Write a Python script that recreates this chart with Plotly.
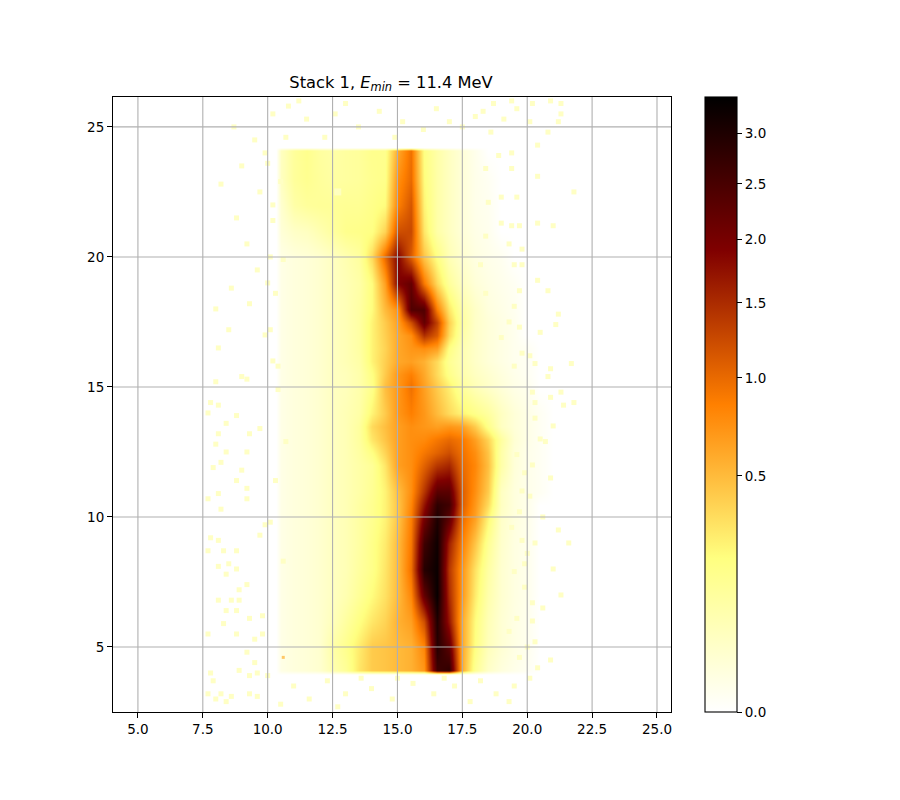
import math
import plotly.graph_objects as go

VMAX = 3.39
x_cols = [10.3, 10.5, 11, 11.5, 12, 12.5, 13, 13.5, 14, 14.5, 15, 15.5, 16, 16.5, 17, 17.5, 18, 18.5, 19, 19.5, 20, 20.5, 21]
y_rows = [3.95, 4.1, 5, 6, 7, 8, 9, 10, 10.5, 11, 12, 12.5, 13, 13.5, 14, 15, 15.5, 16, 16.5, 17, 17.5, 18, 19, 20, 21, 22, 23, 24.1, 24.2]

row_empty = [0]*21
edge = [.008,.015,.02,.03,.05]
row_4_1 = [.008,.015,.02,.03,.08,.14,.30,.42,.45,.50,.55,.70,2.6,2.8,.60,.15,.04,.015,.006,.002,0]
row_5 = [.008,.015,.02,.03,.10,.17,.28,.42,.45,.50,.55,.80,2.9,2.3,.60,.20,.06,.025,.01,.004,0]
row_6 = [.008,.015,.02,.03,.06,.12,.20,.30,.38,.55,.65,1.2,3.0,1.7,.60,.22,.07,.025,.01,.004,0]
row_7 = edge + [.08,.14,.22,.32,.50,.80,2.2,3.3,1.5,.70,.28,.09,.03,.012,.005,0]
row_8 = edge + [.07,.12,.18,.30,.50,.95,2.9,3.25,1.4,.72,.32,.11,.03,.012,.005,0]
row_9 = edge + [.07,.11,.18,.28,.50,.90,2.6,3.2,1.6,.85,.45,.15,.035,.012,.005,0]
row_10 = edge + [.07,.11,.16,.25,.45,.85,2.0,3.0,2.3,1.0,.65,.25,.04,.015,.006,0]
row_10_5 = edge + [.07,.11,.16,.25,.45,.80,1.7,2.8,2.6,1.1,.70,.35,.05,.015,.006,0]
row_11 = edge + [.07,.10,.15,.25,.48,.75,1.4,2.3,2.3,1.1,.75,.42,.05,.015,.006,.002]
row_12 = edge + [.07,.10,.14,.30,.65,.75,1.05,1.4,1.55,1.0,.80,.48,.10,.02,.006,.002]
row_12_5 = edge + [.07,.11,.20,.38,.65,.75,.90,1.05,1.2,.95,.75,.45,.10,.02,.006,.002]
row_13 = edge + [.07,.12,.30,.45,.65,.75,.78,.90,1.0,.90,.65,.38,.12,.025,.008,.002]
row_13_5 = edge + [.07,.12,.35,.48,.65,.75,.70,.65,.70,.65,.42,.18,.05,.02,.008,.002]
row_14 = edge + [.07,.10,.25,.42,.70,.85,.70,.50,.35,.25,.18,.12,.05,.02,.008,.002]
row_15 = edge + [.06,.09,.18,.48,.70,.95,.65,.42,.27,.13,.07,.04,.02,.008,.004,0]
row_15_5 = edge + [.06,.09,.20,.42,.70,.85,.60,.35,.18,.09,.05,.03,.015,.006,.002,0]
row_16 = edge + [.07,.10,.25,.40,.60,.65,.55,.35,.15,.08,.04,.02,.01,.004,.002,0]
row_16_5 = edge + [.07,.11,.25,.38,.60,.70,.75,.65,.20,.08,.04,.02,.01,.004,.002,0]
row_17 = edge + [.07,.11,.25,.40,.60,.75,1.45,1.1,.35,.10,.04,.02,.01,.004,0,0]
row_17_5 = edge + [.07,.11,.25,.42,.65,1.2,2.2,1.3,.40,.12,.04,.02,.01,.004,0,0]
row_18 = edge + [.07,.11,.22,.50,.75,2.4,2.4,.85,.30,.10,.04,.015,.008,.003,0,0]
row_19 = edge + [.07,.10,.22,.65,1.9,2.2,.90,.35,.13,.05,.02,.01,.005,.002,0,0]
row_20 = edge + [.08,.12,.35,1.0,1.9,1.1,.45,.20,.07,.03,.012,.006,.003,0,0,0]
row_21 = [.02,.04,.05,.08,.12,.17,.18,.20,.38,1.2,1.25,.30,.10,.05,.02,.008,.004,0,0,0,0]
row_22 = [.03,.10,.13,.14,.14,.15,.15,.18,.22,.85,1.15,.25,.10,.05,.02,.006,.003,0,0,0,0]
row_23 = [.05,.13,.16,.13,.11,.12,.13,.16,.18,.75,1.0,.22,.10,.05,.02,.006,.002,0,0,0,0]
row_24_1 = [.05,.13,.17,.12,.10,.12,.13,.17,.17,.60,.95,.20,.10,.05,.02,.005,0,0,0,0,0]

rows = [row_empty, row_4_1, row_5, row_6, row_7, row_8, row_9, row_10, row_10_5, row_11, row_12, row_12_5, row_13,
        row_13_5, row_14, row_15, row_15_5, row_16, row_16_5, row_17, row_17_5, row_18, row_19, row_20, row_21,
        row_22, row_23, row_24_1, row_empty]

speck_x = [7.8,8.1,7.7,8.4,8.1,8.8,9.3,9.7,8.0,8.4,9.2,8.2,7.9,8.8,9.0,9.2,7.7,8.1,9.2,8.2,9.9,9.7,7.8,8.1,7.7,8.3,8.8,8.1,8.5,8.8,8.4,9.2,8.9,8.1,8.6,8.9,8.4,8.8,9.3,9.8,8.3,8.8,9.5,9.8,7.7,9.2,9.5,7.7,7.9,8.2,8.6,9.3,9.6,8.9,9.6,7.8,8.0,10,10.5,8.4,9.3,
           18.3,18.7,19.4,19.6,19.1,20.2,20.9,21.3,21.3,20.1,21.2,18.6,20.8,20.4,19.4,18.9,19.4,20.4,18.4,21.8,18.5,19.0,19.6,19.0,19.4,19.7,21.0,20.4,19.3,19.8,18.4,18.2,19.5,19.8,20.4,19.7,20.8,18.4,19.5,21.2,21.1,19.3,19.7,20.5,19.0,20.1,20.3,20.9,19.5,19.8,21.7,20.8,20.2,21.3,20.9,21.8,20.3,21.4,
           8.0,9.0,9.2,8.1,8.5,9.3,8.6,9.6,8.0,9.2,8.8,9.7,9.0,8.2,9.5,8.7,10.2,9.9,10.2,10.1,9.9,10.2,10.0,
           20.5,20.2,20.9,20.6,21.2,20.3,19.9,21.0,21.3,20.6,20.2,20.3,20.9,20.1,19.5,18.8,19.3,20.4,18.2,21.6,20.7,21.0,
           10.8,11.5,12.2,13.0,13.5,14.3,15.2,16.0,16.5,17.0,17.5,18.0,11.2,12.6,10.7,14.9,
           11,11.6,12.3,13,14,14.8,15.6,16.4,17.2,17.8,12.7,13.6,15,16.8,
           19.6,19.9,20.1,19.7,19.4,19.8,20.0,19.5,19.9,20.2,19.6,19.3,20.0,19.7,20.3,19.8,
           10.4,10.1,10.3,10.6,10.2,10.5,10.0,10.4,10.7,10.3,10.1,10.6]
speck_y = [14.4,14.3,14.0,13.6,13.2,13.9,13.2,13.4,12.8,12.5,12.5,12.1,11.9,11.4,11.8,11.1,10.7,10.9,10.7,10.3,9.7,9.3,9.2,9.1,8.7,8.7,8.7,8.1,8.2,8.0,7.8,7.4,7.2,6.8,6.8,6.8,6.4,6.4,6.1,6.2,5.9,5.5,5.3,5.5,5.5,4.8,4.4,3.2,3.7,3.2,3.1,3.9,4.0,4.1,3.1,4.0,3.0,3.9,2.8,2.9,3.2,
           25.6,25.9,26.0,25.7,25.3,25.9,26.0,25.9,25.5,25.2,25.2,24.8,24.8,24.3,24.0,23.9,23.4,23.1,23.4,22.5,22.1,22.3,22.3,21.3,21.2,21.2,21.2,21.3,20.5,20.3,20.8,19.7,19.7,19.7,19.1,18.7,18.7,18.6,18.1,17.8,17.4,17.5,17.3,17.1,16.9,16.2,15.9,15.7,15.8,16.3,15.9,15.4,14.8,14.8,14.6,14.4,14.4,14.3,
           15.2,15.4,15.3,16.5,17.2,18.2,18.8,19.5,18.0,20.5,21.5,22.5,23.5,22.8,24.5,25.0,25.5,24.0,22.0,20.0,17.0,16.0,19.0,
           13.0,12.0,11.5,10.0,9.5,9.0,8.2,8.0,7.0,6.5,6.0,5.2,4.5,3.8,3.5,3.2,2.9,4.2,3.7,9.0,12.9,13.5,
           25.8,25.3,24.6,25.9,25.0,25.6,25.2,24.9,25.7,25.2,25.0,25.4,26.0,25.5,24.6,24.6,
           3.5,3.0,3.7,3.2,3.4,3.0,3.6,3.2,3.5,2.9,2.7,3.8,3.8,3.8,
           12.4,11.7,10.8,10.2,9.6,9.1,8.6,7.9,7.3,6.7,6.1,5.6,5.0,4.6,13.8,11.0,
           15.8,17.2,18.6,19.9,21.4,22.9,23.6,14.9,12.9,11.4,9.8,8.3]
speck_value = 0.045

spot_x = [10.6, 12.7]
spot_y = [4.6, 22.5]
spot_value = [0.55, 0.03]

x_ticks = [5, 7.5, 10, 12.5, 15, 17.5, 20, 22.5, 25]
y_ticks = [5, 10, 15, 20, 25]
cbar_ticks = [0.0, 0.5, 1.0, 1.5, 2.0, 2.5, 3.0]

colorscale = [[0, "#ffffff"], [0.25, "#ffff80"], [0.5, "#ff8000"], [0.75, "#800000"], [1, "#000000"]]


def lerp_colour(v):
    """Colour of a value under the power-0.5 norm and the afmhot_r ramp."""
    t = math.sqrt(v / VMAX)
    stops = [(0, (255, 255, 255)), (.25, (255, 255, 128)), (.5, (255, 128, 0)), (.75, (128, 0, 0)), (1, (0, 0, 0))]
    for (a, ca), (b, cb) in zip(stops, stops[1:]):
        if t <= b:
            f = (t - a) / (b - a)
            return "rgb(%d,%d,%d)" % tuple(ca[i] + f * (cb[i] - ca[i]) for i in range(3))
    return "black"


fig = go.Figure()
fig.add_trace(go.Heatmap(
    x=x_cols, y=y_rows,
    z=[[0] + [math.sqrt(v) for v in r] + [0] for r in rows],
    zmin=0, zmax=math.sqrt(VMAX), zsmooth="best",
    colorscale=colorscale,
    hoverinfo="skip",
    colorbar=dict(
        x=(705 - 113) / 558, xanchor="left", y=0, yanchor="bottom", len=1, lenmode="fraction",
        thickness=32, thicknessmode="pixels", xpad=0, ypad=0,
        tickmode="array", tickvals=[math.sqrt(t) for t in cbar_ticks],
        ticktext=["%.1f" % t for t in cbar_ticks],
        ticks="outside", ticklen=5, tickwidth=1.1, tickcolor="black",
        outlinecolor="black", outlinewidth=1.1,
        tickfont=dict(family="DejaVu Sans", size=13.5, color="black"),
    ),
))
fig.add_trace(go.Scatter(
    x=speck_x, y=speck_y, mode="markers", hoverinfo="skip", showlegend=False,
    marker=dict(symbol="square", size=5, color=lerp_colour(speck_value), line=dict(width=0)),
))
fig.add_trace(go.Scatter(
    x=spot_x, y=spot_y, mode="markers", hoverinfo="skip", showlegend=False,
    marker=dict(symbol="square", size=[3, 7], color=[lerp_colour(v) for v in spot_value], line=dict(width=0)),
))

grid = dict(type="line", layer="above", line=dict(color="#b0b0b0", width=1.1))
for t in x_ticks:
    fig.add_shape(x0=t, x1=t, y0=0, y1=1, xref="x", yref="paper", **grid)
for t in y_ticks:
    fig.add_shape(x0=0, x1=1, y0=t, y1=t, xref="paper", yref="y", **grid)

axis_common = dict(
    showgrid=False, zeroline=False, ticks="outside", ticklen=5, tickwidth=1.1, tickcolor="black",
    showline=True, linecolor="black", linewidth=1.1, mirror=True, layer="above traces",
    tickfont=dict(family="DejaVu Sans", size=13.5, color="black"),
)
fig.update_layout(
    width=892, height=792, autosize=False,
    margin=dict(l=105, r=229, t=89, b=88, pad=0),
    plot_bgcolor="white", paper_bgcolor="white", showlegend=False,
    title=dict(text="Stack 1, <i>E<sub>min</sub></i> = 11.4 MeV", x=(104 + 279) / 892, xanchor="center",
               y=1 - 74 / 792, yanchor="middle", font=dict(family="DejaVu Sans", size=16.3, color="black")),
    xaxis=dict(range=[4.04, 25.54], tickmode="array", tickvals=x_ticks,
               ticktext=["%.1f" % t for t in x_ticks], **axis_common),
    yaxis=dict(range=[2.5, 26.15], tickmode="array", tickvals=y_ticks,
               ticktext=[str(t) for t in y_ticks], **axis_common),
)
fig.write_html("out.html")
